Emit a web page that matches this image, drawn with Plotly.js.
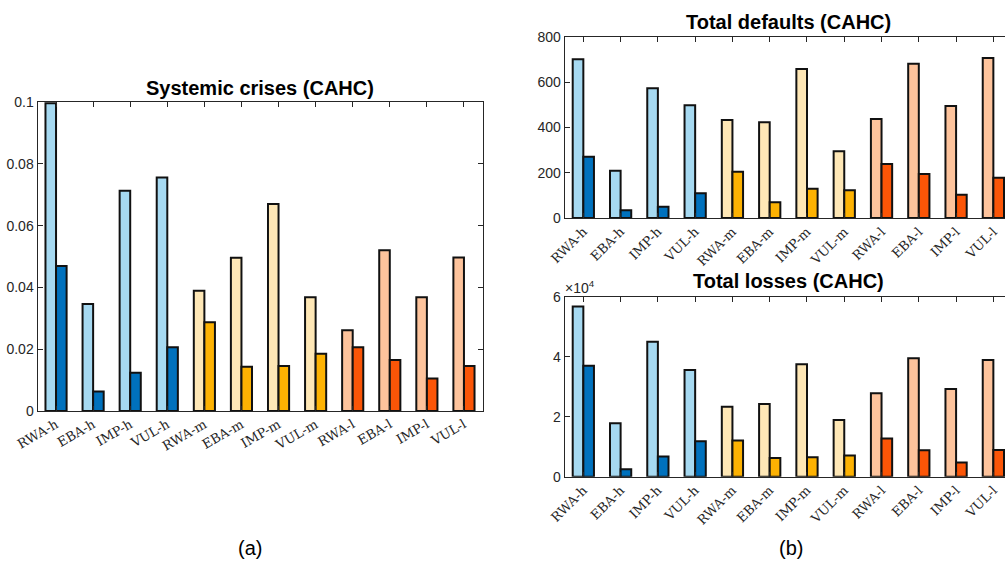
<!DOCTYPE html>
<html><head><meta charset="utf-8">
<script src="https://cdn.plot.ly/plotly-3.0.1.min.js"></script>
<style>html,body{margin:0;padding:0;overflow:hidden;background:#fff;width:1005px;height:561px}#plot{width:1020px;height:561px}</style>
</head><body><div id="plot"></div>
<script>
var categories = ['RWA-h','EBA-h','IMP-h','VUL-h','RWA-m','EBA-m','IMP-m','VUL-m','RWA-l','EBA-l','IMP-l','VUL-l'];
var crisesLight = [0.0996,0.0346,0.0713,0.0756,0.0389,0.0496,0.0670,0.0368,0.0261,0.0520,0.0368,0.0497];
var crisesDark  = [0.0469,0.0063,0.0124,0.0206,0.0287,0.0143,0.0146,0.0185,0.0206,0.0165,0.0105,0.0146];
var defaultsLight = [700,209,572,497,432,422,657,294,437,681,494,706];
var defaultsDark  = [270,34,50,109,204,69,129,122,238,194,103,178];
var lossesLight = [56700,17800,45000,35600,23300,24200,37500,18900,27800,39500,29200,38900];
var lossesDark  = [37000,2500,6700,11800,12100,6200,6500,7100,12700,8800,4700,8900];
var lightColors = ['#a6d9f1','#a6d9f1','#a6d9f1','#a6d9f1','#fee7b6','#fee7b6','#fee7b6','#fee7b6','#fdc39c','#fdc39c','#fdc39c','#fdc39c'];
var darkColors  = ['#0071bd','#0071bd','#0071bd','#0071bd','#fdb202','#fdb202','#fdb202','#fdb202','#fb5507','#fb5507','#fb5507','#fb5507'];

var W = 1020, H = 561;
function dx(a,b){return [a/W, b/W];}
function dy(top,bot){return [1-bot/H, 1-top/H];}

function bars(x,y,cols,xa,ya){
  return {type:'bar', x:x, y:y, xaxis:xa, yaxis:ya, marker:{color:cols, line:{color:'#111', width:2}}, showlegend:false, hoverinfo:'skip'};
}
var data = [
  bars(categories, crisesLight, lightColors, 'x', 'y'),
  bars(categories, crisesDark, darkColors, 'x', 'y'),
  bars(categories, defaultsLight, lightColors, 'x2', 'y2'),
  bars(categories, defaultsDark, darkColors, 'x2', 'y2'),
  bars(categories, lossesLight, lightColors, 'x3', 'y3'),
  bars(categories, lossesDark, darkColors, 'x3', 'y3')
];

var tickFontY = {family:'Liberation Sans, Arial, sans-serif', size:14, color:'#262626'};
var tickFontX = {family:'DejaVu Serif, Liberation Serif, serif', size:13, color:'#262626'};
function xax(domain, anchor, angle){
  return {domain:domain, anchor:anchor, type:'category', range:[-0.5,11.5], showline:true, linecolor:'#262626', linewidth:1,
    mirror:'ticks', ticks:'inside', ticklen:5, tickcolor:'#262626', tickangle:angle, tickfont:tickFontX, showgrid:false, zeroline:false, fixedrange:true};
}
function yax(domain, anchor, range, extra){
  var o = {domain:domain, anchor:anchor, range:range, showline:true, linecolor:'#262626', linewidth:1,
    mirror:'ticks', ticks:'inside', ticklen:5, tickcolor:'#262626', tickfont:tickFontY, showgrid:false, zeroline:false, fixedrange:true};
  for (var k in extra) o[k]=extra[k];
  return o;
}
var titleFont = {family:'Liberation Sans, Arial, sans-serif', size:20, color:'#000'};
var layout = {
  width:W, height:H, margin:{l:0,r:0,t:0,b:0}, paper_bgcolor:'#fff', plot_bgcolor:'#fff',
  barmode:'group', bargap:0.43, bargroupgap:0,
  xaxis: xax(dx(37.5,482.5), 'y', -30),
  yaxis: yax(dy(102,411), 'x', [0,0.1], {tickvals:[0,0.02,0.04,0.06,0.08,0.1], ticktext:['0','0.02','0.04','0.06','0.08','0.1']}),
  xaxis2: xax(dx(564.7,1012), 'y2', -45),
  yaxis2: yax(dy(36.7,218), 'x2', [0,800], {tickvals:[0,200,400,600,800]}),
  xaxis3: xax(dx(564.7,1012), 'y3', -45),
  yaxis3: yax(dy(296.7,476.7), 'x3', [0,60000], {tickvals:[0,20000,40000,60000], ticktext:['0','2','4','6']}),
  annotations: [
    {text:'<b>Systemic crises (CAHC)</b>', xref:'paper', yref:'paper', x:260/W, y:1-88/H, showarrow:false, font:titleFont, xanchor:'center', yanchor:'middle'},
    {text:'<b>Total defaults (CAHC)</b>', xref:'paper', yref:'paper', x:788/W, y:1-22/H, showarrow:false, font:titleFont, xanchor:'center', yanchor:'middle'},
    {text:'<b>Total losses (CAHC)</b>', xref:'paper', yref:'paper', x:788/W, y:1-281/H, showarrow:false, font:titleFont, xanchor:'center', yanchor:'middle'},
    {text:'×10<sup>4</sup>', xref:'paper', yref:'paper', x:563/W, y:1-287/H, showarrow:false, font:{family:'Liberation Sans, Arial, sans-serif', size:14, color:'#262626'}, xanchor:'left', yanchor:'middle'},
    {text:'(a)', xref:'paper', yref:'paper', x:250/W, y:1-548/H, showarrow:false, font:{family:'Liberation Sans, Arial, sans-serif', size:20, color:'#000'}, xanchor:'center', yanchor:'middle'},
    {text:'(b)', xref:'paper', yref:'paper', x:791/W, y:1-548/H, showarrow:false, font:{family:'Liberation Sans, Arial, sans-serif', size:20, color:'#000'}, xanchor:'center', yanchor:'middle'}
  ]
};
Plotly.newPlot('plot', data, layout, {displayModeBar:false, staticPlot:true});
</script></body></html>
